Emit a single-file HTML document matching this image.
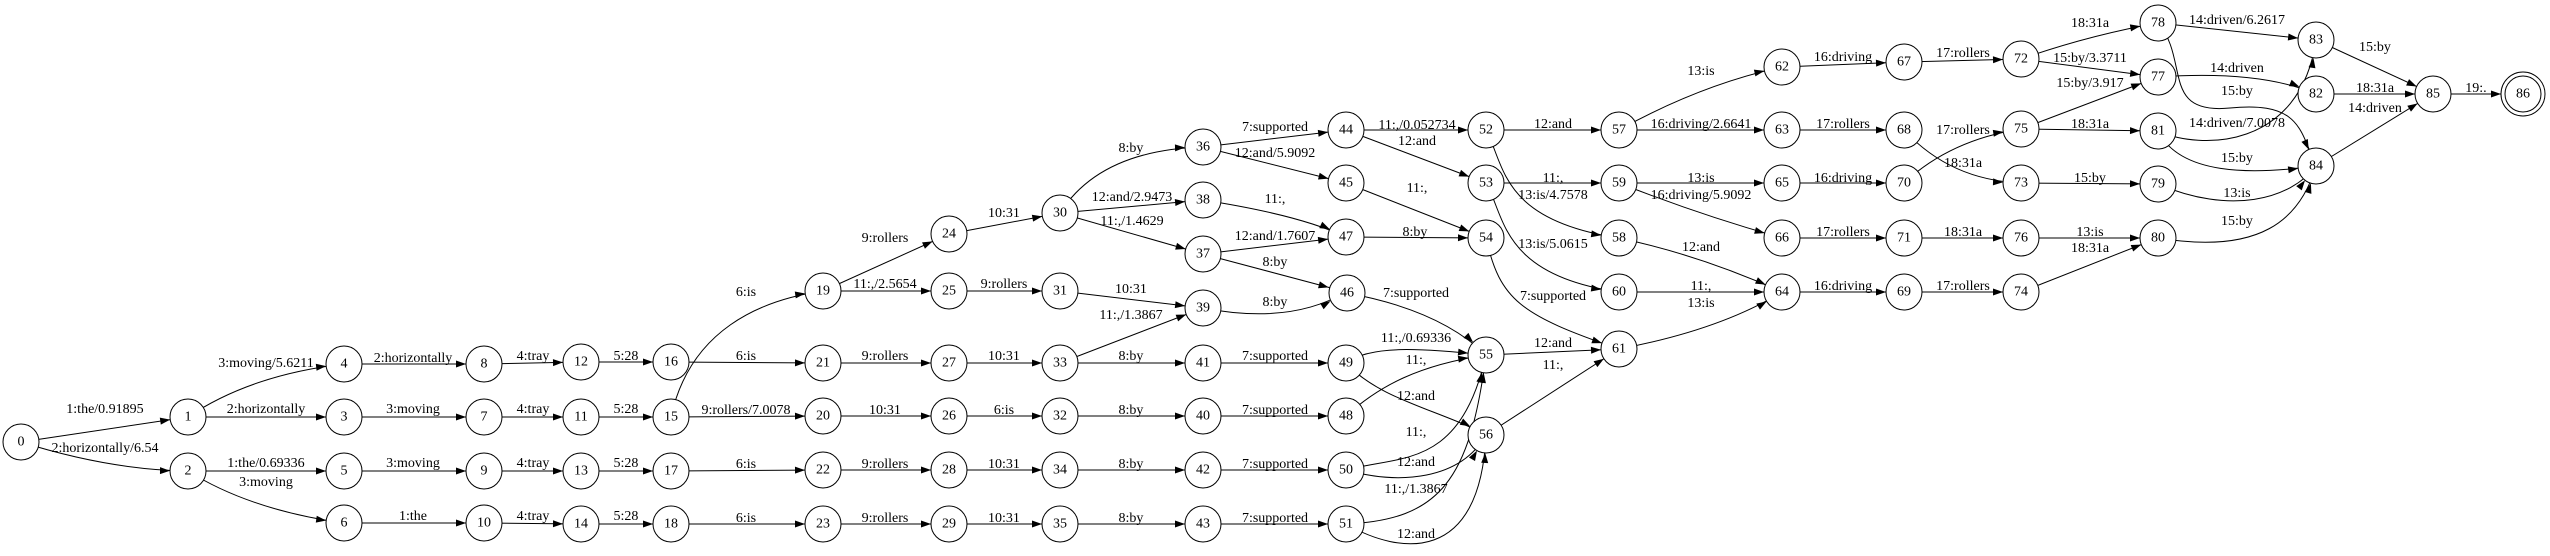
<!DOCTYPE html>
<html><head><meta charset="utf-8"><style>
html,body{margin:0;padding:0;background:#fff;}
svg{display:block;}
text{font-family:"Liberation Serif",serif;font-size:14px;fill:#000;}
.n text{text-anchor:middle;dominant-baseline:central;}
.l{text-anchor:middle;}
path{fill:none;stroke:#000;stroke-width:1;marker-end:url(#a);}
circle{fill:#fff;stroke:#000;stroke-width:1;}
</style></head><body>
<svg width="2550" height="556" viewBox="0 0 2550 556" xmlns="http://www.w3.org/2000/svg">
<defs><marker id="a" markerUnits="userSpaceOnUse" markerWidth="40" markerHeight="20" refX="28" refY="3.5" orient="auto" style="overflow:visible"><polygon points="0,0 10,3.5 0,7" fill="#000"/></marker></defs>
<g>
<path d="M21,442 L188,417"/><path d="M21,442 Q110,470 188,471"/>
<path d="M188,417 Q250,375 344,364"/><path d="M188,417 L344,417"/><path d="M188,471 L344,471"/><path d="M188,471 Q250,510 344,523"/>
<path d="M344,364 L484,364"/><path d="M344,417 L484,417"/><path d="M344,471 L484,471"/><path d="M344,523 L484,523"/>
<path d="M484,364 L581,362"/><path d="M484,417 L581,417"/><path d="M484,471 L581,471"/><path d="M484,523 L581,524"/>
<path d="M581,362 L671,362"/><path d="M581,417 L671,417"/><path d="M581,471 L671,471"/><path d="M581,524 L671,524"/>
<path d="M671,417 C690,330 760,300 823,291"/><path d="M671,362 L823,363"/><path d="M671,417 L823,416"/><path d="M671,471 L823,470"/><path d="M671,524 L823,524"/>
<path d="M823,291 L949,234"/><path d="M823,291 L949,291"/><path d="M823,363 L949,363"/><path d="M823,416 L949,416"/><path d="M823,470 L949,470"/><path d="M823,524 L949,524"/>
<path d="M949,234 L1060,213"/><path d="M949,291 L1060,291"/><path d="M949,363 L1060,363"/><path d="M949,416 L1060,416"/><path d="M949,470 L1060,470"/><path d="M949,524 L1060,524"/>
<path d="M1060,213 Q1100,150 1203,147"/><path d="M1060,213 L1203,200"/><path d="M1060,213 L1203,254"/><path d="M1060,291 L1203,308"/><path d="M1060,363 L1203,308"/>
<path d="M1060,363 L1203,363"/><path d="M1060,416 L1203,416"/><path d="M1060,470 L1203,470"/><path d="M1060,524 L1203,524"/>
<path d="M1203,147 L1346,130"/><path d="M1203,147 L1346,183"/><path d="M1203,200 Q1300,215 1346,237"/><path d="M1203,254 L1346,237"/><path d="M1203,254 L1346,292"/><path d="M1203,308 Q1290,325 1346,292"/>
<path d="M1203,363 L1346,363"/><path d="M1203,416 L1346,416"/><path d="M1203,470 L1346,470"/><path d="M1203,524 L1346,524"/>
<path d="M1346,130 L1486,130"/><path d="M1346,130 L1486,183"/><path d="M1346,183 L1486,238"/><path d="M1346,237 L1486,238"/>
<path d="M1347,293 Q1440,310 1486,355"/>
<path d="M1346,363 C1370,345 1420,348 1486,355"/>
<path d="M1346,416 C1380,385 1420,365 1486,355"/>
<path d="M1346,363 C1380,400 1440,410 1486,435"/>
<path d="M1346,470 C1400,455 1460,470 1486,355"/>
<path d="M1346,470 C1400,485 1460,480 1486,435"/>
<path d="M1346,524 C1440,520 1470,480 1486,355"/>
<path d="M1346,524 C1400,555 1480,565 1486,435"/>
<path d="M1486,130 L1619,130"/><path d="M1486,130 C1505,165 1500,220 1619,238"/><path d="M1486,183 L1619,183"/><path d="M1486,183 C1505,215 1500,275 1619,292"/>
<path d="M1486,238 C1500,300 1520,315 1619,349"/><path d="M1486,355 L1619,349"/><path d="M1486,435 L1619,349"/>
<path d="M1619,130 Q1700,85 1782,67"/><path d="M1619,130 L1782,130"/><path d="M1619,183 L1782,183"/><path d="M1619,183 Q1700,215 1782,238"/>
<path d="M1619,238 Q1700,255 1782,292"/><path d="M1619,292 L1782,292"/><path d="M1619,349 Q1720,330 1782,292"/>
<path d="M1782,67 L1904,62"/><path d="M1782,130 L1904,130"/><path d="M1782,183 L1904,183"/><path d="M1782,238 L1904,238"/><path d="M1782,292 L1904,292"/>
<path d="M1904,62 L2021,59"/><path d="M1904,183 Q1950,140 2021,129"/><path d="M1904,130 Q1950,180 2021,183"/><path d="M1904,238 L2021,238"/><path d="M1904,292 L2021,292"/>
<path d="M2021,59 Q2090,35 2158,23"/><path d="M2021,59 L2158,77"/><path d="M2021,129 L2158,77"/><path d="M2021,129 L2158,131"/><path d="M2021,183 L2158,184"/><path d="M2021,238 L2158,238"/><path d="M2021,292 L2158,238"/>
<path d="M2158,23 L2316,40"/><path d="M2158,77 Q2260,70 2316,94"/>
<path d="M2158,23 C2190,60 2160,115 2230,108 S2300,130 2316,166"/>
<path d="M2158,131 C2200,150 2300,150 2316,40"/>
<path d="M2158,131 C2180,175 2250,175 2316,166"/>
<path d="M2158,184 C2230,215 2290,200 2316,166"/>
<path d="M2158,238 C2260,255 2300,220 2316,166"/>
<path d="M2316,40 L2433,94"/><path d="M2316,94 L2433,94"/><path d="M2316,166 L2433,94"/><path d="M2433,94 L2519,94"/>
</g>
<g>
<text class="l" x="105" y="413">1:the/0.91895</text><text class="l" x="105" y="452">2:horizontally/6.54</text>
<text class="l" x="266" y="367">3:moving/5.6211</text><text class="l" x="266" y="413">2:horizontally</text><text class="l" x="266" y="467">1:the/0.69336</text><text class="l" x="266" y="486">3:moving</text>
<text class="l" x="413" y="362">2:horizontally</text><text class="l" x="413" y="413">3:moving</text><text class="l" x="413" y="467">3:moving</text><text class="l" x="413" y="520">1:the</text>
<text class="l" x="533" y="360">4:tray</text><text class="l" x="533" y="413">4:tray</text><text class="l" x="533" y="467">4:tray</text><text class="l" x="533" y="520">4:tray</text>
<text class="l" x="626" y="360">5:28</text><text class="l" x="626" y="413">5:28</text><text class="l" x="626" y="467">5:28</text><text class="l" x="626" y="520">5:28</text>
<text class="l" x="746" y="296">6:is</text><text class="l" x="746" y="360">6:is</text><text class="l" x="746" y="414">9:rollers/7.0078</text><text class="l" x="746" y="468">6:is</text><text class="l" x="746" y="522">6:is</text>
<text class="l" x="885" y="242">9:rollers</text><text class="l" x="885" y="288">11:,/2.5654</text><text class="l" x="885" y="360">9:rollers</text><text class="l" x="885" y="414">10:31</text><text class="l" x="885" y="468">9:rollers</text><text class="l" x="885" y="522">9:rollers</text>
<text class="l" x="1004" y="217">10:31</text><text class="l" x="1004" y="288">9:rollers</text><text class="l" x="1004" y="360">10:31</text><text class="l" x="1004" y="414">6:is</text><text class="l" x="1004" y="468">10:31</text><text class="l" x="1004" y="522">10:31</text>
<text class="l" x="1131" y="152">8:by</text><text class="l" x="1132" y="201">12:and/2.9473</text><text class="l" x="1132" y="225">11:,/1.4629</text><text class="l" x="1131" y="293">10:31</text><text class="l" x="1131" y="319">11:,/1.3867</text>
<text class="l" x="1131" y="360">8:by</text><text class="l" x="1131" y="414">8:by</text><text class="l" x="1131" y="468">8:by</text><text class="l" x="1131" y="522">8:by</text>
<text class="l" x="1275" y="131">7:supported</text><text class="l" x="1275" y="157">12:and/5.9092</text><text class="l" x="1275" y="203">11:,</text><text class="l" x="1275" y="240">12:and/1.7607</text><text class="l" x="1275" y="266">8:by</text><text class="l" x="1275" y="306">8:by</text>
<text class="l" x="1275" y="360">7:supported</text><text class="l" x="1275" y="414">7:supported</text><text class="l" x="1275" y="468">7:supported</text><text class="l" x="1275" y="522">7:supported</text>
<text class="l" x="1417" y="129">11:,/0.052734</text><text class="l" x="1417" y="145">12:and</text><text class="l" x="1417" y="192">11:,</text><text class="l" x="1415" y="236">8:by</text>
<text class="l" x="1416" y="297">7:supported</text><text class="l" x="1416" y="342">11:,/0.69336</text><text class="l" x="1416" y="364">11:,</text><text class="l" x="1416" y="400">12:and</text><text class="l" x="1416" y="436">11:,</text><text class="l" x="1416" y="466">12:and</text><text class="l" x="1416" y="493">11:,/1.3867</text><text class="l" x="1416" y="538">12:and</text>
<text class="l" x="1553" y="128">12:and</text><text class="l" x="1553" y="182">11:,</text><text class="l" x="1553" y="199">13:is/4.7578</text><text class="l" x="1553" y="248">13:is/5.0615</text><text class="l" x="1553" y="300">7:supported</text><text class="l" x="1553" y="347">12:and</text><text class="l" x="1553" y="369">11:,</text>
<text class="l" x="1701" y="75">13:is</text><text class="l" x="1701" y="128">16:driving/2.6641</text><text class="l" x="1701" y="182">13:is</text><text class="l" x="1701" y="199">16:driving/5.9092</text><text class="l" x="1701" y="251">12:and</text><text class="l" x="1701" y="290">11:,</text><text class="l" x="1701" y="307">13:is</text>
<text class="l" x="1843" y="61">16:driving</text><text class="l" x="1843" y="128">17:rollers</text><text class="l" x="1843" y="182">16:driving</text><text class="l" x="1843" y="236">17:rollers</text><text class="l" x="1843" y="290">16:driving</text>
<text class="l" x="1963" y="57">17:rollers</text><text class="l" x="1963" y="134">17:rollers</text><text class="l" x="1963" y="167">18:31a</text><text class="l" x="1963" y="236">18:31a</text><text class="l" x="1963" y="290">17:rollers</text>
<text class="l" x="2090" y="27">18:31a</text><text class="l" x="2090" y="62">15:by/3.3711</text><text class="l" x="2090" y="87">15:by/3.917</text><text class="l" x="2090" y="128">18:31a</text><text class="l" x="2090" y="182">15:by</text><text class="l" x="2090" y="236">13:is</text><text class="l" x="2090" y="252">18:31a</text>
<text class="l" x="2237" y="24">14:driven/6.2617</text><text class="l" x="2237" y="72">14:driven</text><text class="l" x="2237" y="95">15:by</text><text class="l" x="2237" y="127">14:driven/7.0078</text><text class="l" x="2237" y="162">15:by</text><text class="l" x="2237" y="197">13:is</text><text class="l" x="2237" y="225">15:by</text>
<text class="l" x="2375" y="51">15:by</text><text class="l" x="2375" y="92">18:31a</text><text class="l" x="2375" y="112">14:driven</text><text class="l" x="2476" y="92">19:.</text>
</g>
<g class="n">
<circle cx="21" cy="442" r="18" stroke-width="2"/><text x="21" y="442">0</text>
<circle cx="188" cy="417" r="18"/><text x="188" y="417">1</text>
<circle cx="188" cy="471" r="18"/><text x="188" y="471">2</text>
<circle cx="344" cy="364" r="18"/><text x="344" y="364">4</text>
<circle cx="344" cy="417" r="18"/><text x="344" y="417">3</text>
<circle cx="344" cy="471" r="18"/><text x="344" y="471">5</text>
<circle cx="344" cy="523" r="18"/><text x="344" y="523">6</text>
<circle cx="484" cy="364" r="18"/><text x="484" y="364">8</text>
<circle cx="484" cy="417" r="18"/><text x="484" y="417">7</text>
<circle cx="484" cy="471" r="18"/><text x="484" y="471">9</text>
<circle cx="484" cy="523" r="18"/><text x="484" y="523">10</text>
<circle cx="581" cy="362" r="18"/><text x="581" y="362">12</text>
<circle cx="581" cy="417" r="18"/><text x="581" y="417">11</text>
<circle cx="581" cy="471" r="18"/><text x="581" y="471">13</text>
<circle cx="581" cy="524" r="18"/><text x="581" y="524">14</text>
<circle cx="671" cy="362" r="18"/><text x="671" y="362">16</text>
<circle cx="671" cy="417" r="18"/><text x="671" y="417">15</text>
<circle cx="671" cy="471" r="18"/><text x="671" y="471">17</text>
<circle cx="671" cy="524" r="18"/><text x="671" y="524">18</text>
<circle cx="823" cy="291" r="18"/><text x="823" y="291">19</text>
<circle cx="823" cy="363" r="18"/><text x="823" y="363">21</text>
<circle cx="823" cy="416" r="18"/><text x="823" y="416">20</text>
<circle cx="823" cy="470" r="18"/><text x="823" y="470">22</text>
<circle cx="823" cy="524" r="18"/><text x="823" y="524">23</text>
<circle cx="949" cy="234" r="18"/><text x="949" y="234">24</text>
<circle cx="949" cy="291" r="18"/><text x="949" y="291">25</text>
<circle cx="949" cy="363" r="18"/><text x="949" y="363">27</text>
<circle cx="949" cy="416" r="18"/><text x="949" y="416">26</text>
<circle cx="949" cy="470" r="18"/><text x="949" y="470">28</text>
<circle cx="949" cy="524" r="18"/><text x="949" y="524">29</text>
<circle cx="1060" cy="213" r="18"/><text x="1060" y="213">30</text>
<circle cx="1060" cy="291" r="18"/><text x="1060" y="291">31</text>
<circle cx="1060" cy="363" r="18"/><text x="1060" y="363">33</text>
<circle cx="1060" cy="416" r="18"/><text x="1060" y="416">32</text>
<circle cx="1060" cy="470" r="18"/><text x="1060" y="470">34</text>
<circle cx="1060" cy="524" r="18"/><text x="1060" y="524">35</text>
<circle cx="1203" cy="147" r="18"/><text x="1203" y="147">36</text>
<circle cx="1203" cy="200" r="18"/><text x="1203" y="200">38</text>
<circle cx="1203" cy="254" r="18"/><text x="1203" y="254">37</text>
<circle cx="1203" cy="308" r="18"/><text x="1203" y="308">39</text>
<circle cx="1203" cy="363" r="18"/><text x="1203" y="363">41</text>
<circle cx="1203" cy="416" r="18"/><text x="1203" y="416">40</text>
<circle cx="1203" cy="470" r="18"/><text x="1203" y="470">42</text>
<circle cx="1203" cy="524" r="18"/><text x="1203" y="524">43</text>
<circle cx="1346" cy="130" r="18"/><text x="1346" y="130">44</text>
<circle cx="1346" cy="183" r="18"/><text x="1346" y="183">45</text>
<circle cx="1346" cy="237" r="18"/><text x="1346" y="237">47</text>
<circle cx="1347" cy="293" r="18"/><text x="1347" y="293">46</text>
<circle cx="1346" cy="363" r="18"/><text x="1346" y="363">49</text>
<circle cx="1346" cy="416" r="18"/><text x="1346" y="416">48</text>
<circle cx="1346" cy="470" r="18"/><text x="1346" y="470">50</text>
<circle cx="1346" cy="524" r="18"/><text x="1346" y="524">51</text>
<circle cx="1486" cy="130" r="18"/><text x="1486" y="130">52</text>
<circle cx="1486" cy="183" r="18"/><text x="1486" y="183">53</text>
<circle cx="1486" cy="238" r="18"/><text x="1486" y="238">54</text>
<circle cx="1486" cy="355" r="18"/><text x="1486" y="355">55</text>
<circle cx="1486" cy="435" r="18"/><text x="1486" y="435">56</text>
<circle cx="1619" cy="130" r="18"/><text x="1619" y="130">57</text>
<circle cx="1619" cy="183" r="18"/><text x="1619" y="183">59</text>
<circle cx="1619" cy="238" r="18"/><text x="1619" y="238">58</text>
<circle cx="1619" cy="292" r="18"/><text x="1619" y="292">60</text>
<circle cx="1619" cy="349" r="18"/><text x="1619" y="349">61</text>
<circle cx="1782" cy="67" r="18"/><text x="1782" y="67">62</text>
<circle cx="1782" cy="130" r="18"/><text x="1782" y="130">63</text>
<circle cx="1782" cy="183" r="18"/><text x="1782" y="183">65</text>
<circle cx="1782" cy="238" r="18"/><text x="1782" y="238">66</text>
<circle cx="1782" cy="292" r="18"/><text x="1782" y="292">64</text>
<circle cx="1904" cy="62" r="18"/><text x="1904" y="62">67</text>
<circle cx="1904" cy="130" r="18"/><text x="1904" y="130">68</text>
<circle cx="1904" cy="183" r="18"/><text x="1904" y="183">70</text>
<circle cx="1904" cy="238" r="18"/><text x="1904" y="238">71</text>
<circle cx="1904" cy="292" r="18"/><text x="1904" y="292">69</text>
<circle cx="2021" cy="59" r="18"/><text x="2021" y="59">72</text>
<circle cx="2021" cy="129" r="18"/><text x="2021" y="129">75</text>
<circle cx="2021" cy="183" r="18"/><text x="2021" y="183">73</text>
<circle cx="2021" cy="238" r="18"/><text x="2021" y="238">76</text>
<circle cx="2021" cy="292" r="18"/><text x="2021" y="292">74</text>
<circle cx="2158" cy="23" r="18"/><text x="2158" y="23">78</text>
<circle cx="2158" cy="77" r="18"/><text x="2158" y="77">77</text>
<circle cx="2158" cy="131" r="18"/><text x="2158" y="131">81</text>
<circle cx="2158" cy="184" r="18"/><text x="2158" y="184">79</text>
<circle cx="2158" cy="238" r="18"/><text x="2158" y="238">80</text>
<circle cx="2316" cy="40" r="18"/><text x="2316" y="40">83</text>
<circle cx="2316" cy="94" r="18"/><text x="2316" y="94">82</text>
<circle cx="2316" cy="166" r="18"/><text x="2316" y="166">84</text>
<circle cx="2433" cy="94" r="18"/><text x="2433" y="94">85</text>
<circle cx="2523" cy="94" r="22"/><circle cx="2523" cy="94" r="18"/><text x="2523" y="94">86</text>
</g>
</svg>
</body></html>
